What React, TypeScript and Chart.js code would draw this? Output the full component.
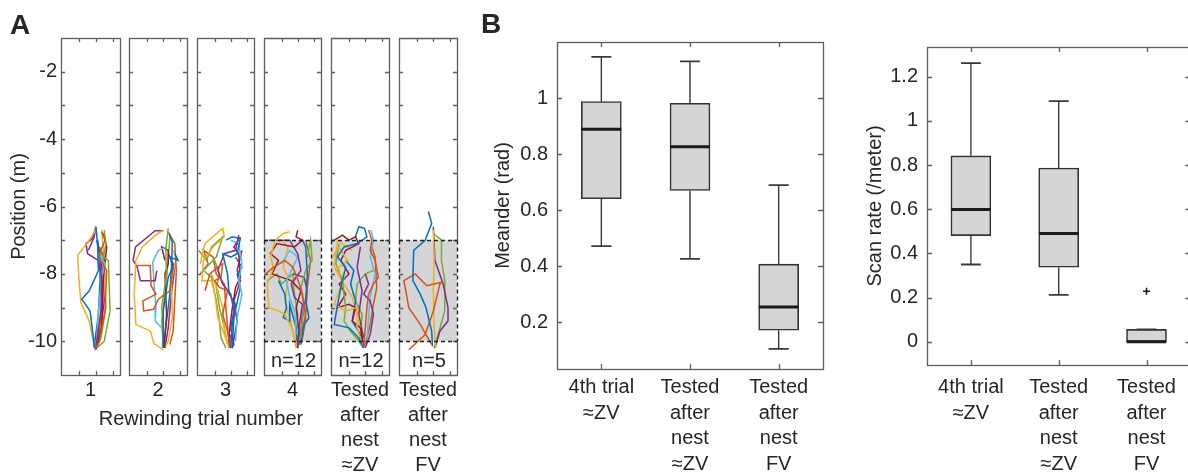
import React, { useEffect, useRef } from 'react';
import { Chart, registerables } from 'chart.js';

Chart.register(...registerables);

const FONT_FAMILY = '"Liberation Sans", Arial, Helvetica, sans-serif';
const TEXT_COLOR = '#262626';
const AXIS_COLOR = '#5e5e5e';
const GRAY_FILL = '#d4d5d7';
const LINE_COLORS = ['#0072BD', '#D95319', '#EDB120', '#7E2F8E', '#77AC30', '#4DBEEE', '#A2142F'];

Chart.defaults.font.family = FONT_FAMILY;
Chart.defaults.color = TEXT_COLOR;

// ---------------- Panel A data ----------------
type Pt = [number, number];

const trialLabels: string[][] = [
  ['1'], ['2'], ['3'], ['4'],
  ['Tested', 'after', 'nest', '≈ZV'],
  ['Tested', 'after', 'nest', 'FV'],
];
const trialCounts: (number | null)[] = [null, null, null, 12, 12, 5];
const trialHasZone: boolean[] = [false, false, false, true, true, true];
const searchZone: [number, number] = [-10, -7];
const positionRange: [number, number] = [-11, -1];
const lateralRange: [number, number] = [-2.1, 1.45];
const positionTicks = [-10, -9, -8, -7, -6, -5, -4, -3, -2];
const lateralTicks = [-1, 0, 1];

const trial1Paths: Pt[][] = [
  [[0.0,-6.6],[0.1,-7.1],[0.15,-7.9],[-0.4,-8.5],[-0.85,-8.75],[-0.35,-9.1],[-0.15,-9.9],[-0.1,-10.2]],
  [[0.35,-6.75],[0.55,-7.0],[0.15,-7.5],[0.65,-7.9],[0.55,-9.1],[0.2,-10.0],[0.0,-10.2]],
  [[0.05,-6.65],[-0.4,-7.0],[-1.1,-7.45],[-1.0,-8.3],[-0.9,-8.85],[-0.4,-9.4],[-0.2,-9.9],[-0.05,-10.2]],
  [[-0.45,-7.3],[-0.1,-6.9],[0.0,-6.6],[-0.2,-6.95],[-0.6,-7.1],[-0.5,-7.4],[0.15,-7.6],[0.35,-8.1],[0.3,-9.1],[0.05,-10.0],[-0.05,-10.25]],
  [[0.5,-6.7],[0.6,-7.1],[0.45,-7.5],[0.75,-7.6],[0.85,-9.1],[0.5,-10.0],[0.05,-10.2]],
  [[0.15,-7.4],[0.55,-7.7],[0.35,-8.1],[0.15,-9.1],[0.05,-9.95],[0.0,-10.1]],
  [[0.45,-6.8],[0.65,-7.2],[0.45,-8.1],[0.35,-9.6],[0.0,-10.2]],
  [[0.05,-7.0],[0.25,-7.5],[0.25,-8.2],[0.15,-9.2],[-0.1,-10.15]],
  [[0.2,-7.2],[0.5,-7.5],[0.4,-8.4],[0.3,-9.4],[0.05,-10.15]],
  [[0.35,-6.7],[0.45,-7.3],[0.55,-8.1],[0.25,-9.6],[-0.05,-10.2]],
  [[0.1,-7.0],[0.35,-7.8],[0.5,-8.8],[0.25,-9.8],[0.0,-10.25]],
  [[0.3,-7.2],[0.5,-8.0],[0.6,-9.0],[0.3,-9.9],[0.1,-10.15]],
];

const trial2Paths: Pt[][] = [
  [[0.7,-7.4],[0.9,-7.6],[0.4,-7.5],[0.6,-7.8],[0.3,-8.1],[0.0,-9.1],[0.0,-10.2]],
  [[-1.6,-7.75],[-0.8,-7.75],[-0.75,-8.35],[-0.45,-8.6],[-1.25,-8.8],[-1.2,-9.1],[-0.6,-9.05],[-0.3,-8.75],[0.4,-8.5],[0.6,-7.8]],
  [[0.02,-6.7],[-0.48,-6.85],[-1.28,-7.2],[-1.68,-7.6],[-1.78,-8.6],[-1.68,-9.5],[-0.78,-9.7],[-0.58,-10.06],[0.0,-10.26]],
  [[0.0,-6.72],[-0.5,-6.72],[-1.7,-7.2],[-1.85,-7.6],[-1.6,-7.8],[-1.4,-8.2],[-0.5,-8.2],[-0.4,-7.9]],
  [[0.3,-6.65],[0.15,-7.3],[0.2,-8.0],[-0.1,-9.0],[0.0,-9.5],[-0.05,-10.2]],
  [[0.2,-7.2],[-0.3,-7.3],[-0.65,-7.65],[-0.55,-8.4],[-0.45,-9.0],[-0.5,-9.4],[-0.1,-9.6]],
  [[0.1,-7.6],[-0.1,-7.2],[0.3,-7.3],[0.3,-7.7],[0.1,-8.0],[0.2,-9.2],[0.05,-10.2]],
  [[0.35,-6.8],[0.55,-7.05],[0.5,-7.8],[0.4,-8.6],[0.15,-9.6],[0.0,-10.2]],
  [[0.3,-6.75],[0.7,-7.1],[0.8,-7.9],[0.7,-8.8],[0.6,-9.7],[0.4,-10.1]],
  [[0.6,-7.3],[0.8,-7.5],[0.5,-8.2],[0.55,-9.3],[0.3,-10.0],[0.15,-10.15]],
  [[0.3,-7.4],[0.7,-7.8],[0.5,-8.6],[0.3,-9.6],[0.1,-10.2]],
  [[0.4,-6.9],[0.3,-7.6],[0.1,-8.6],[-0.1,-9.4],[0.0,-10.2]],
];

const trial3Paths: Pt[][] = [
  [[-0.3,-7.0],[0.1,-6.9],[0.6,-6.95],[0.4,-7.4],[0.0,-7.5],[-0.5,-7.4],[-0.2,-8.0],[-0.1,-8.6],[0.3,-8.9],[0.1,-9.5],[0.0,-10.2]],
  [[-1.6,-8.5],[-1.3,-8.0],[-0.8,-7.8],[-0.5,-7.7],[-0.6,-8.1],[-1.0,-8.2],[-0.7,-8.4],[-0.2,-8.5],[-0.5,-9.2],[-0.2,-9.7],[0.0,-10.2]],
  [[-1.9,-7.7],[-1.6,-7.1],[-1.0,-6.85],[-0.5,-6.65],[-0.4,-6.9],[-1.1,-7.2],[-1.7,-7.6],[-1.8,-8.2],[-1.2,-8.2],[-1.0,-8.6],[-0.8,-9.3],[-0.4,-9.8],[-0.1,-10.2]],
  [[0.5,-6.85],[0.3,-7.3],[-0.4,-7.4],[-0.8,-7.9],[-0.5,-8.3],[0.0,-8.6],[0.2,-9.1],[0.0,-9.6],[0.2,-10.1],[0.05,-10.2]],
  [[-2.0,-7.3],[-1.5,-7.6],[-1.2,-7.2],[-0.5,-6.9],[-0.9,-7.5],[-1.7,-7.9],[-1.2,-8.1],[-0.9,-8.8],[-0.7,-9.4],[-0.6,-9.9],[-0.3,-10.2]],
  [[0.0,-7.0],[0.5,-7.1],[0.7,-7.7],[0.5,-8.2],[0.7,-8.6],[0.4,-9.3],[0.3,-10.0]],
  [[0.6,-6.9],[0.2,-7.2],[0.5,-7.4],[0.6,-8.1],[0.3,-8.4],[0.1,-9.0],[-0.1,-9.8],[-0.05,-10.2]],
  [[0.3,-7.5],[0.7,-7.8],[0.4,-8.0],[0.6,-8.4],[0.2,-9.3],[0.1,-10.15]],
  [[-1.9,-8.0],[-1.4,-7.7],[-1.7,-7.3],[-1.1,-7.5],[-0.9,-8.0],[-0.4,-8.3],[-0.3,-9.0],[-0.1,-10.1]],
  [[-1.2,-8.0],[-0.8,-8.5],[-0.5,-9.0],[-0.4,-9.7],[-0.1,-10.2]],
  [[0.7,-7.3],[0.4,-7.9],[0.6,-8.2],[0.2,-8.8],[0.4,-9.4],[0.1,-10.2]],
  [[-1.0,-7.6],[-0.7,-8.0],[-0.9,-8.4],[-0.7,-9.0],[-0.4,-9.6],[-0.2,-10.1]],
];

const trial4Paths: Pt[][] = [
  [[0.3,-7.0],[0.5,-7.2],[0.6,-8.0],[0.5,-8.8],[0.7,-9.3],[0.4,-9.5],[0.2,-10.1]],
  [[-2.0,-8.0],[-1.5,-7.8],[-0.8,-7.6],[-0.3,-7.8],[0.1,-8.3],[0.3,-8.6],[0.5,-9.3],[0.3,-9.9],[0.1,-10.1]],
  [[-0.5,-6.75],[-0.9,-6.8],[-1.4,-7.0],[-1.7,-7.5],[-1.5,-7.8],[-1.9,-8.3],[-1.8,-9.0],[-1.2,-9.1],[-0.8,-9.2],[-0.3,-9.7],[-0.1,-10.2]],
  [[-1.8,-7.0],[-0.5,-7.0],[0.0,-7.4],[0.2,-7.9],[-0.4,-8.3],[-0.2,-8.7],[0.3,-8.9],[0.1,-9.5],[0.0,-10.2]],
  [[0.6,-7.5],[0.8,-7.0],[0.9,-7.6],[0.5,-7.9],[0.2,-8.4],[0.4,-9.0],[0.2,-9.7],[0.0,-10.2]],
  [[-1.0,-7.7],[-0.5,-7.3],[0.0,-7.5],[-0.7,-8.2],[-0.5,-8.7],[-0.2,-9.1],[-0.1,-9.8]],
  [[0.0,-6.7],[-0.1,-6.9],[0.3,-7.0],[-0.2,-7.2],[-1.3,-7.1],[-1.7,-7.4],[-1.2,-7.6],[-1.6,-8.0],[-0.4,-8.2],[0.2,-8.5],[-0.1,-9.0],[0.1,-9.8],[-0.05,-10.2]],
  [[-1.2,-8.2],[-0.8,-8.6],[-0.7,-9.0],[-0.9,-9.3],[-0.5,-9.4],[-0.5,-8.9],[-0.1,-9.6],[0.0,-10.15]],
  [[0.5,-7.0],[0.8,-7.6],[0.6,-8.4],[0.5,-9.2],[0.2,-9.8],[0.0,-10.2]],
  [[-1.0,-7.0],[-0.6,-7.2],[-0.9,-7.8],[-0.6,-8.1],[-0.8,-8.8],[-0.4,-9.5],[-0.1,-10.1]],
  [[-0.3,-8.0],[0.4,-8.1],[0.6,-8.5],[0.3,-9.2],[0.1,-10.1]],
  [[-1.9,-8.2],[-1.3,-8.0],[-1.0,-8.3],[-0.3,-8.0],[-0.2,-8.6],[0.0,-9.2],[-0.1,-10.0]],
];

const nestZVPaths: Pt[][] = [
  [[-0.6,-6.9],[-0.4,-6.6],[-0.05,-6.65],[0.1,-6.9],[-0.5,-7.1],[-1.3,-7.2],[-1.7,-7.5],[-1.2,-7.8],[-1.5,-8.4],[-1.8,-9.2],[-1.9,-9.5],[-1.0,-9.6],[-0.4,-9.9],[-0.1,-10.2]],
  [[0.2,-6.7],[0.4,-7.0],[0.3,-7.3],[0.6,-7.6],[0.8,-8.1],[0.5,-8.3],[0.2,-8.6],[0.1,-9.0],[0.0,-9.6],[-0.1,-10.2]],
  [[-2.0,-7.5],[-1.6,-7.2],[-1.1,-7.6],[-1.8,-7.9],[-1.3,-8.1],[-1.6,-8.5],[-1.9,-8.9],[-1.2,-9.1],[-0.5,-9.0],[-0.5,-9.6],[-0.2,-10.1]],
  [[0.0,-8.0],[0.2,-8.3],[-0.1,-8.6],[0.3,-8.8],[0.5,-9.2],[0.3,-9.8],[0.0,-10.2]],
  [[-1.6,-7.1],[-1.8,-7.7],[-1.4,-8.2],[-1.2,-9.0],[-1.3,-9.4],[-0.9,-9.7],[-0.4,-10.0],[-0.1,-10.2]],
  [[0.35,-6.7],[0.5,-7.0],[0.3,-7.5],[0.6,-8.0],[0.3,-8.7],[0.2,-9.3],[0.1,-10.0]],
  [[-1.9,-7.0],[-1.4,-6.85],[-1.0,-7.0],[-0.6,-6.9],[-0.4,-7.1],[-1.2,-7.3],[-1.5,-7.6],[-1.0,-8.0],[-1.6,-8.3],[-1.2,-8.6],[-1.7,-9.0],[-1.0,-8.9],[-0.6,-9.0],[-0.8,-9.4],[-0.3,-9.6],[-0.1,-10.1]],
  [[-1.2,-7.6],[-0.7,-7.9],[-0.9,-8.3],[-0.6,-8.8],[-0.8,-9.4],[-0.3,-9.8],[-0.05,-10.15]],
  [[0.4,-7.2],[0.6,-7.5],[0.7,-8.4],[0.5,-8.9],[0.3,-9.5],[0.0,-10.1]],
  [[-0.8,-7.3],[-1.7,-7.0],[-1.9,-7.8],[-1.3,-8.3],[-0.8,-8.7],[-0.5,-9.2],[-0.2,-9.9]],
  [[-0.3,-7.2],[-0.5,-7.8],[-0.2,-8.5],[-0.4,-9.2],[-0.1,-9.9]],
  [[0.5,-7.9],[0.0,-8.0],[-0.5,-8.3],[-0.6,-8.8],[-0.2,-9.2],[-0.3,-9.8]],
];

const nestFVPaths: Pt[][] = [
  [[-0.3,-6.15],[-0.1,-6.5],[-0.5,-7.0],[-1.2,-7.3],[-1.25,-8.2],[-0.8,-8.6],[-0.45,-9.0],[-0.1,-9.7],[-0.05,-10.15]],
  [[-1.5,-10.25],[-0.5,-9.8],[0.0,-9.1],[0.4,-8.3],[0.5,-8.25],[-0.4,-8.35],[-1.1,-8.0],[-1.8,-8.2],[-1.5,-9.0],[-0.8,-9.5],[-0.1,-10.1]],
  [[0.0,-6.7],[0.05,-7.5],[0.0,-8.5],[0.05,-9.5],[0.15,-10.2]],
  [[0.0,-6.6],[0.1,-7.6],[0.6,-8.3],[0.9,-9.0],[0.9,-9.4],[0.4,-9.7],[0.1,-10.2]],
  [[0.0,-6.8],[0.5,-7.0],[0.5,-7.6],[0.7,-8.2],[0.7,-9.1],[0.3,-9.8],[0.05,-10.2]],
];

const trialPaths: Pt[][][] = [trial1Paths, trial2Paths, trial3Paths, trial4Paths, nestZVPaths, nestFVPaths];

// ---------------- Panel B data ----------------
const groupLabels: string[][] = [
  ['4th trial', '≈ZV'],
  ['Tested', 'after', 'nest', '≈ZV'],
  ['Tested', 'after', 'nest', 'FV'],
];
const groupPositions = [1, 2, 3];

const meanderMin = [0.472, 0.426, 0.104];
const meanderQ1 = [0.641, 0.671, 0.171];
const meanderMedian = [0.89, 0.827, 0.254];
const meanderQ3 = [0.989, 0.983, 0.407];
const meanderMax = [1.149, 1.133, 0.69];
const meanderOutliers: { group: number; value: number }[] = [];
const meanderTicks = [0.2, 0.4, 0.6, 0.8, 1];
const meanderRange: [number, number] = [0.032, 1.202];

const scanMin = [0.35, 0.213, 0];
const scanQ1 = [0.481, 0.338, 0];
const scanMedian = [0.599, 0.49, 0];
const scanQ3 = [0.842, 0.787, 0.056];
const scanMax = [1.262, 1.09, 0.056];
const scanOutliers = [{ group: 3, value: 0.229 }];
const scanTicks = [0, 0.2, 0.4, 0.6, 0.8, 1, 1.2];
const scanRange: [number, number] = [-0.105, 1.335];

// ---------------- Layout constants ----------------
const A_TOP = 38;
const A_BOTTOM = 375;
const A_FRAMES: [number, number][] = [[61, 120], [129, 187], [197, 254], [264, 321], [331, 389], [399, 457]];
const BOX_HALF = 0.225;
const CAP_HALF = 0.113;
const COUNT_Y = -10.6;

const framePlugin = {
  id: 'matlabFrame',
  beforeDatasetsDraw(chart: any, _args: any, opts: any) {
    if (!opts.zone) return;
    const { ctx, chartArea } = chart;
    const y = chart.scales.y;
    const t = y.getPixelForValue(opts.zone[1]);
    const b = y.getPixelForValue(opts.zone[0]);
    ctx.save();
    ctx.fillStyle = GRAY_FILL;
    ctx.fillRect(chartArea.left, t, chartArea.right - chartArea.left, b - t);
    ctx.restore();
  },
  afterDatasetsDraw(chart: any, _args: any, opts: any) {
    const { ctx, chartArea } = chart;
    const { left, right, top, bottom } = chartArea;
    const r = (v: number) => Math.round(v) + 0.5;
    const xs = chart.scales.x;
    const ys = chart.scales.y;
    ctx.save();
    ctx.strokeStyle = AXIS_COLOR;
    ctx.lineWidth = 1.3;
    ctx.beginPath();
    const L = opts.tickLen;
    ys.ticks.forEach((tk: any) => {
      const p = r(ys.getPixelForValue(tk.value));
      if (p <= top + 1 || p >= bottom - 1) return;
      ctx.moveTo(left, p); ctx.lineTo(left + L, p);
      ctx.moveTo(right, p); ctx.lineTo(right - L, p);
    });
    xs.ticks.forEach((tk: any) => {
      const p = r(xs.getPixelForValue(tk.value));
      ctx.moveTo(p, top); ctx.lineTo(p, top + L);
      ctx.moveTo(p, bottom); ctx.lineTo(p, bottom - L);
    });
    ctx.stroke();
    if (!opts.zone) {
      ctx.strokeRect(r(left), r(top), Math.round(right - left), Math.round(bottom - top));
    } else {
      const t = r(ys.getPixelForValue(opts.zone[1]));
      const b = r(ys.getPixelForValue(opts.zone[0]));
      ctx.beginPath();
      ctx.moveTo(r(left), t); ctx.lineTo(r(left), r(top)); ctx.lineTo(r(right), r(top)); ctx.lineTo(r(right), t);
      ctx.moveTo(r(left), b); ctx.lineTo(r(left), r(bottom)); ctx.lineTo(r(right), r(bottom)); ctx.lineTo(r(right), b);
      ctx.stroke();
      ctx.strokeStyle = '#222';
      ctx.lineWidth = 1.4;
      ctx.setLineDash([4, 3]);
      ctx.beginPath();
      ctx.moveTo(left, t); ctx.lineTo(right, t);
      ctx.moveTo(left, b); ctx.lineTo(right, b);
      ctx.moveTo(r(left), t); ctx.lineTo(r(left), b);
      ctx.moveTo(r(right), t); ctx.lineTo(r(right), b);
      ctx.stroke();
      ctx.setLineDash([]);
    }
    if (opts.count != null) {
      ctx.fillStyle = TEXT_COLOR;
      ctx.font = '20px ' + FONT_FAMILY;
      ctx.textAlign = 'center';
      ctx.textBaseline = 'middle';
      ctx.fillText('n=' + opts.count, (left + right) / 2 + 1, ys.getPixelForValue(COUNT_Y));
    }
    ctx.restore();
  },
};

function aGeometry(i: number) {
  const [fl, fr] = A_FRAMES[i];
  const yW = i === 0 ? 61 : 3;
  const padR = 3;
  const lines = trialLabels[i].length;
  const height = A_BOTTOM + 28 + 25 * (lines - 1);
  return { left: fl - yW, width: yW + (fr - fl) + padR, height, yW, padR, axisH: height - A_BOTTOM };
}

function makeTrajectoryChart(canvas: HTMLCanvasElement, i: number) {
  const g = aGeometry(i);
  const paths = trialPaths[i];
  return new Chart(canvas, {
    type: 'scatter',
    data: {
      datasets: paths.map((p, k) => ({
        data: p.map(([x, y]) => ({ x, y })),
        showLine: true,
        borderColor: LINE_COLORS[k % LINE_COLORS.length],
        backgroundColor: LINE_COLORS[k % LINE_COLORS.length],
        borderWidth: 1.5,
        pointRadius: 0,
        pointHoverRadius: 0,
        tension: 0,
        fill: false,
      })),
    },
    options: {
      animation: false,
      responsive: false,
      maintainAspectRatio: false,
      events: [],
      layout: { padding: { top: A_TOP, right: g.padR, left: 0, bottom: 0 } },
      plugins: {
        legend: { display: false },
        tooltip: { enabled: false },
        matlabFrame: { zone: trialHasZone[i] ? searchZone : null, count: trialCounts[i], tickLen: 4 },
      } as any,
      scales: {
        x: {
          type: 'linear',
          min: lateralRange[0],
          max: lateralRange[1],
          grid: { display: false, drawTicks: false },
          border: { display: false },
          ticks: { display: false },
          afterBuildTicks: (s: any) => { s.ticks = lateralTicks.map((v) => ({ value: v })); },
          afterFit: (s: any) => { s.height = g.axisH; },
          title: {
            display: true,
            text: trialLabels[i],
            color: TEXT_COLOR,
            font: { size: 20, lineHeight: 1.25 },
            padding: { top: 0, bottom: 0 },
          },
        },
        y: {
          type: 'linear',
          min: positionRange[0],
          max: positionRange[1],
          grid: { display: false, drawTicks: false },
          border: { display: false },
          afterBuildTicks: (s: any) => { s.ticks = positionTicks.map((v) => ({ value: v })); },
          afterFit: (s: any) => { s.width = g.yW; },
          ticks: {
            display: i === 0,
            padding: 4,
            color: TEXT_COLOR,
            font: { size: 20 },
            callback: (v: any) => (Number(v) % 2 === 0 ? String(v) : ''),
          },
          title: {
            display: i === 0,
            text: 'Position (m)',
            color: TEXT_COLOR,
            font: { size: 20, lineHeight: 1.25 },
            padding: { top: 7, bottom: 0 },
          },
        },
      } as any,
    },
    plugins: [framePlugin as any],
  });
}

interface BoxStats {
  min: number[]; q1: number[]; med: number[]; q3: number[]; max: number[];
  outliers: { group: number; value: number }[];
  ticks: number[]; range: [number, number]; title: string;
}

interface BoxGeom { yW: number; top: number; padR: number; axisH: number; tickPad: number; titlePad: number; }

function makeBoxChart(canvas: HTMLCanvasElement, s: BoxStats, g: BoxGeom) {
  const whisker: any[] = [];
  const caps: any[] = [];
  const medians: any[] = [];
  groupPositions.forEach((c, k) => {
    whisker.push({ x: c, y: s.q3[k] }, { x: c, y: s.max[k] }, { x: c, y: null },
      { x: c, y: s.min[k] }, { x: c, y: s.q1[k] }, { x: c, y: null });
    caps.push({ x: c - CAP_HALF, y: s.max[k] }, { x: c + CAP_HALF, y: s.max[k] }, { x: c, y: null },
      { x: c - CAP_HALF, y: s.min[k] }, { x: c + CAP_HALF, y: s.min[k] }, { x: c, y: null });
    medians.push({ x: c - BOX_HALF, y: s.med[k] }, { x: c + BOX_HALF, y: s.med[k] }, { x: c, y: null });
  });
  const lineBase = { showLine: true, pointRadius: 0, pointHoverRadius: 0, spanGaps: false, tension: 0, fill: false };
  return new Chart(canvas, {
    type: 'scatter',
    data: {
      datasets: [
        { ...lineBase, type: 'line', data: medians, borderColor: '#1a1a1a', borderWidth: 3, order: 0 },
        {
          type: 'scatter',
          data: s.outliers.map((o) => ({ x: o.group, y: o.value })),
          pointStyle: 'cross', pointRadius: 3.5, borderColor: '#1a1a1a', borderWidth: 1.6, order: 1,
        },
        { ...lineBase, type: 'line', data: caps, borderColor: '#3a3a3a', borderWidth: 1.8, order: 2 },
        { ...lineBase, type: 'line', data: whisker, borderColor: '#3a3a3a', borderWidth: 1.4, order: 2 },
        {
          type: 'bar',
          data: groupPositions.map((c, k) => ({ x: c, y: [s.q1[k], s.q3[k]] })),
          backgroundColor: GRAY_FILL,
          borderColor: '#333',
          borderWidth: 1.6,
          borderSkipped: false,
          barThickness: 40,
          order: 3,
        },
      ] as any,
    },
    options: {
      animation: false,
      responsive: false,
      maintainAspectRatio: false,
      events: [],
      layout: { padding: { top: g.top, right: g.padR, left: 0, bottom: 0 } },
      plugins: {
        legend: { display: false },
        tooltip: { enabled: false },
        matlabFrame: { zone: null, count: null, tickLen: 5 },
      } as any,
      scales: {
        x: {
          type: 'linear',
          min: 0.5,
          max: 3.5,
          offset: false,
          grid: { display: false, drawTicks: false },
          border: { display: false },
          afterBuildTicks: (sc: any) => { sc.ticks = groupPositions.map((v) => ({ value: v })); },
          afterFit: (sc: any) => { sc.height = g.axisH; },
          ticks: {
            padding: g.tickPad,
            autoSkip: false,
            maxRotation: 0,
            minRotation: 0,
            color: TEXT_COLOR,
            font: { size: 20, lineHeight: 1.275 },
            callback: (v: any) => groupLabels[groupPositions.indexOf(Number(v))] ?? '',
          },
        },
        y: {
          type: 'linear',
          min: s.range[0],
          max: s.range[1],
          grid: { display: false, drawTicks: false },
          border: { display: false },
          afterBuildTicks: (sc: any) => { sc.ticks = s.ticks.map((v) => ({ value: v })); },
          afterFit: (sc: any) => { sc.width = g.yW; },
          ticks: {
            padding: 9,
            color: TEXT_COLOR,
            font: { size: 20 },
            callback: (v: any) => String(Number(Number(v).toFixed(1))),
          },
          title: {
            display: true,
            text: s.title,
            color: TEXT_COLOR,
            font: { size: 20, lineHeight: 1.25 },
            padding: { top: g.titlePad, bottom: 0 },
          },
        },
      } as any,
    },
    plugins: [framePlugin as any],
  });
}

const B1 = { left: 470, width: 357, height: 480 };
const B2 = { left: 850, width: 346, height: 480 };

export default function App() {
  const refs = useRef<(HTMLCanvasElement | null)[]>([]);

  useEffect(() => {
    const charts: Chart[] = [];
    for (let i = 0; i < 6; i++) {
      const c = refs.current[i];
      if (c) charts.push(makeTrajectoryChart(c, i));
    }
    const c6 = refs.current[6];
    if (c6) {
      charts.push(makeBoxChart(c6, {
        min: meanderMin, q1: meanderQ1, med: meanderMedian, q3: meanderQ3, max: meanderMax,
        outliers: meanderOutliers, ticks: meanderTicks, range: meanderRange, title: 'Meander (rad)',
      }, { yW: 87, top: 42, padR: 4, axisH: 480 - 369, tickPad: 6, titlePad: 20.5 }));
    }
    const c7 = refs.current[7];
    if (c7) {
      charts.push(makeBoxChart(c7, {
        min: scanMin, q1: scanQ1, med: scanMedian, q3: scanQ3, max: scanMax,
        outliers: scanOutliers, ticks: scanTicks, range: scanRange, title: 'Scan rate (/meter)',
      }, { yW: 77, top: 47, padR: 3, axisH: 480 - 365, tickPad: 10, titlePad: 12.5 }));
    }
    return () => charts.forEach((ch) => ch.destroy());
  }, []);

  return (
    <div style={{
      position: 'absolute', left: 0, top: 0, width: 1188, height: 473, overflow: 'hidden',
      background: '#ffffff', fontFamily: FONT_FAMILY, color: TEXT_COLOR,
    }}>
      {A_FRAMES.map((_, i) => {
        const g = aGeometry(i);
        return (
          <canvas
            key={i}
            ref={(el) => { refs.current[i] = el; }}
            width={g.width}
            height={g.height}
            style={{ position: 'absolute', left: g.left, top: 0, width: g.width, height: g.height }}
          />
        );
      })}
      <canvas
        ref={(el) => { refs.current[6] = el; }}
        width={B1.width}
        height={B1.height}
        style={{ position: 'absolute', left: B1.left, top: 0, width: B1.width, height: B1.height }}
      />
      <canvas
        ref={(el) => { refs.current[7] = el; }}
        width={B2.width}
        height={B2.height}
        style={{ position: 'absolute', left: B2.left, top: 0, width: B2.width, height: B2.height }}
      />
      <div style={{ position: 'absolute', left: 10, top: 11, fontSize: 28, fontWeight: 'bold', lineHeight: '28px' }}>A</div>
      <div style={{ position: 'absolute', left: 481, top: 10, fontSize: 28, fontWeight: 'bold', lineHeight: '28px' }}>B</div>
      <div style={{
        position: 'absolute', left: 51, top: 406, width: 300, textAlign: 'center',
        fontSize: 20, lineHeight: '24px',
      }}>Rewinding trial number</div>
    </div>
  );
}
